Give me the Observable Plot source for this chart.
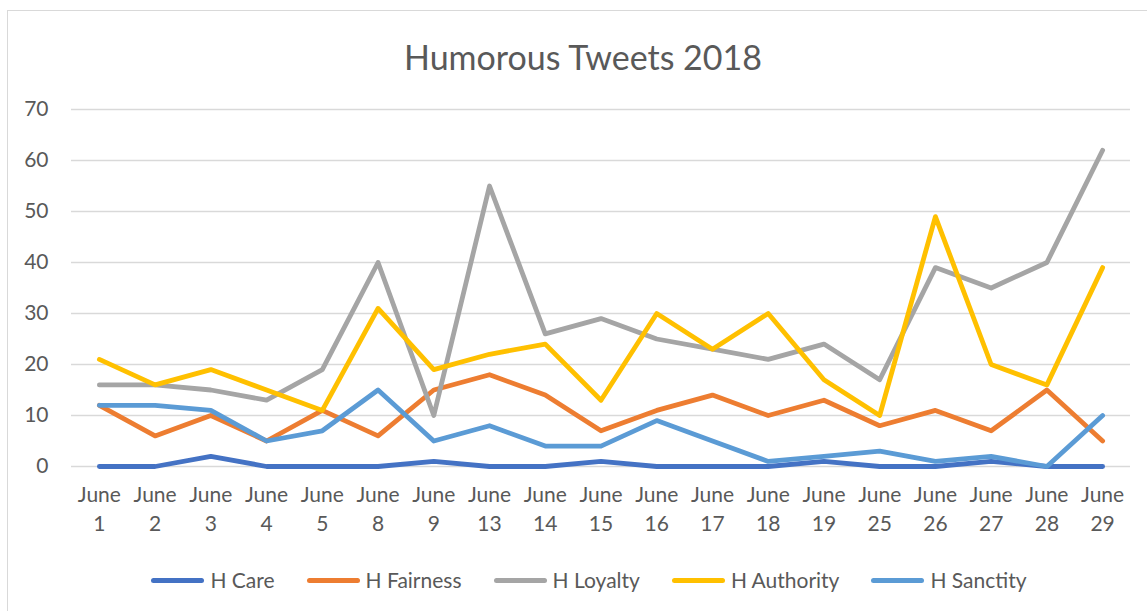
<!DOCTYPE html>
<html>
<head>
<meta charset="utf-8">
<script src="https://cdn.jsdelivr.net/npm/d3@7"></script>
<script src="https://cdn.jsdelivr.net/npm/@observablehq/plot@0.6"></script>
<style>
  html, body { margin: 0; padding: 0; background: #fff; }
  #wrap { position: relative; width: 1147px; height: 611px; overflow: hidden; font-family: Lato, "Open Sans", sans-serif; color: #595959; }
  #frame { position: absolute; left: 7px; top: 10px; width: 1160px; height: 620px; border: 1.5px solid #d9d9d9; box-sizing: border-box; }
  #title { position: absolute; left: 0; width: 1166px; top: 35px; text-align: center; font-size: 34px; line-height: 44px; }
  #chart { position: absolute; left: 0; top: 80px; }
  #legend { position: absolute; top: 567px; left: 0; width: 1178px; display: flex; justify-content: center; font-size: 21px; line-height: 26px; }
  .item { display: flex; align-items: center; margin: 0 16px; }
  .sw { width: 53px; height: 5px; border-radius: 3px; margin-right: 6px; }
</style>
</head>
<body>
<div id="wrap">
  <div id="frame"></div>
  <div id="title">Humorous Tweets 2018</div>
  <div id="chart"></div>
  <div id="legend"></div>
</div>
<script>
const days = ["1","2","3","4","5","8","9","13","14","15","16","17","18","19","25","26","27","28","29"];
const seriesNames = ["H Care","H Fairness","H Loyalty","H Authority","H Sanctity"];
const colors = ["#4472C4","#ED7D31","#A5A5A5","#FFC000","#5B9BD5"];
const care      = [0,0,2,0,0,0,1,0,0,1,0,0,0,1,0,0,1,0,0];
const fairness  = [12,6,10,5,11,6,15,18,14,7,11,14,10,13,8,11,7,15,5];
const loyalty   = [16,16,15,13,19,40,10,55,26,29,25,23,21,24,17,39,35,40,62];
const authority = [21,16,19,15,11,31,19,22,24,13,30,23,30,17,10,49,20,16,39];
const sanctity  = [12,12,11,5,7,15,5,8,4,4,9,5,1,2,3,1,2,0,10];
const yTicks = [0,10,20,30,40,50,60,70];

const seriesValues = [care, fairness, loyalty, authority, sanctity];
const labels = days.map(d => "June " + d);
const rows = [];
seriesNames.forEach((s, i) => {
  seriesValues[i].forEach((v, j) => rows.push({series: s, day: labels[j], value: v}));
});

const chart = Plot.plot({
  width: 1147,
  height: 461,
  marginTop: 29,
  marginBottom: 75,
  marginLeft: 71,
  marginRight: 17,
  style: {fontFamily: "Lato, 'Open Sans', sans-serif", fontSize: "21px", color: "#595959", background: "transparent"},
  x: {type: "point", domain: labels, padding: 0.5, round: false, label: null},
  y: {domain: [0, 70], label: null},
  color: {domain: seriesNames, range: colors},
  marks: [
    Plot.gridY(yTicks, {stroke: "#d9d9d9", strokeOpacity: 1, strokeWidth: 1.3}),
    Plot.axisY(yTicks, {tickSize: 0, tickPadding: 23, fontSize: 21, fill: "#595959", label: null}),
    Plot.axisX({tickSize: 0, tickPadding: 15, fontSize: 21, fill: "#595959", lineHeight: 1.38,
      tickFormat: d => d.replace(" ", "\n"), label: null}),
    Plot.line(rows, {x: "day", y: "value", z: "series", stroke: "series", strokeWidth: 4.8,
      strokeLinejoin: "round", strokeLinecap: "round"})
  ]
});
document.getElementById("chart").appendChild(chart);

const legend = document.getElementById("legend");
seriesNames.forEach((s, i) => {
  const it = document.createElement("div");
  it.className = "item";
  const sw = document.createElement("div");
  sw.className = "sw";
  sw.style.background = colors[i];
  const tx = document.createElement("span");
  tx.textContent = s;
  it.appendChild(sw); it.appendChild(tx);
  legend.appendChild(it);
});
</script>
</body>
</html>
